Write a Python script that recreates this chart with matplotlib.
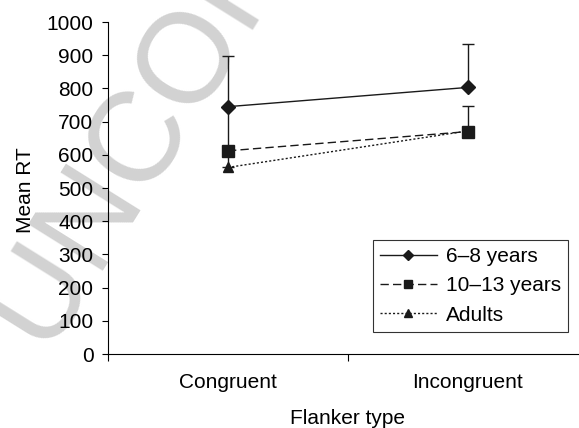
import numpy as np
import matplotlib
matplotlib.use("Agg")
import matplotlib.pyplot as plt
from matplotlib.lines import Line2D

plt.rcParams['font.family'] = ['Liberation Sans', 'DejaVu Sans']

categories = ["Congruent", "Incongruent"]
groups = ["6\u20138 years", "10\u201313 years", "Adults"]
means_kids = [745, 803]
means_teens = [612, 670]
means_adults = [562, 672]
err_kids = [153, 130]
err_teens = [133, 78]
err_adults = [48, 0]

fig = plt.figure(figsize=(5.79, 4.28), dpi=100)

# faint watermark behind the chart
fig.text(0.085, 0.165, "UNCORRECTED PROOF", fontsize=92, color="#d2d2d2",
         rotation=58, ha="left", va="baseline", zorder=-5, rotation_mode="anchor")

ax = fig.add_axes([108/579, 74/428, 480/579, 332/428])
ax.patch.set_alpha(0)

x = np.arange(len(categories))
styles = [("-", "D", 7), ((0, (6, 3)), "s", 8.5), ((0, (1.5, 1.5)), "^", 7.5)]
handles = []
for means, err, lab, (ls, mk, ms) in zip([means_kids, means_teens, means_adults],
                                         [err_kids, err_teens, err_adults], groups, styles):
    ax.errorbar(x, means, yerr=[np.zeros(len(err)), err], color="#1a1a1a",
                linestyle=ls, marker=mk, markersize=ms, linewidth=1,
                elinewidth=1, capsize=4, capthick=1)
    handles.append(Line2D([], [], color="#1a1a1a", linestyle=ls, marker=mk,
                          markersize=ms * 0.75, linewidth=1, label=lab))

ax.set_xlim(-0.5, 1.5)
ax.set_ylim(0, 1000)
ax.set_yticks(range(0, 1001, 100))
ax.set_xticks([-0.5, 0.5, 1.5])
ax.set_xticklabels([])
ax.set_xticks(x, minor=True)
ax.set_xticklabels(categories, minor=True)
ax.tick_params(axis="x", which="minor", length=0, pad=14, labelsize=15)
ax.tick_params(axis="x", which="major", length=5, direction="out")
ax.tick_params(axis="y", length=4, direction="out", pad=6.5, labelsize=15)
ax.spines["top"].set_visible(False)
ax.spines["right"].set_visible(False)

ax.set_xlabel("Flanker type", fontsize=15, labelpad=12)
ax.set_ylabel("Mean RT", fontsize=15)
ax.yaxis.set_label_coords(-0.152, 0.495)

leg = ax.legend(handles=handles, loc="lower left", bbox_to_anchor=(265/480, 22/332),
                frameon=True, fancybox=False, edgecolor="black", fontsize=15,
                handlelength=2.7, handletextpad=0.45, borderpad=0.35,
                labelspacing=0.5, borderaxespad=0)
leg.get_frame().set_linewidth(0.8)

fig.savefig("out.png", dpi=100)
